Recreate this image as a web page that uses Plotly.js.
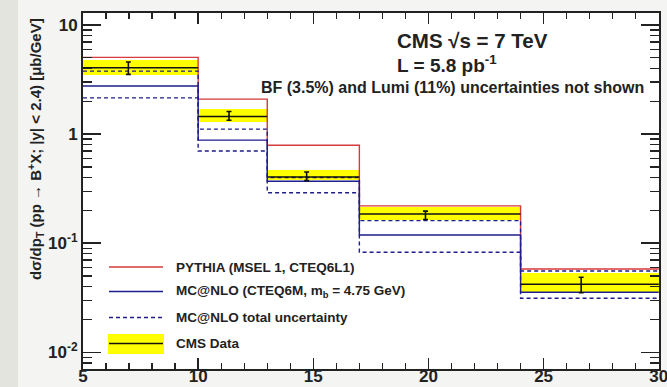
<!DOCTYPE html>
<html>
<head>
<meta charset="utf-8">
<script src="https://cdn.plot.ly/plotly-3.0.1.min.js"></script>
<style>html,body{margin:0;padding:0;background:#f4f4f2;}#chart{width:667px;height:387px;}</style>
</head>
<body>
<div id="chart"></div>
<script>
// ---- data ----
const binEdges   = [5, 10, 13, 17, 24, 30];
const pythia     = [5.05, 2.09, 0.79, 0.22, 0.058];
const mcnlo      = [2.76, 0.88, 0.37, 0.119, 0.0355];
const mcnloUp    = [3.78, 1.11, 0.40, 0.161, 0.0557];
const mcnloDown  = [2.15, 0.70, 0.29, 0.0826, 0.0313];
const cmsData    = [4.06, 1.45, 0.405, 0.185, 0.042];
const cmsBandLo  = [3.50, 1.30, 0.38, 0.164, 0.0352];
const cmsBandHi  = [4.82, 1.69, 0.47, 0.214, 0.053];
const pointX     = [6.97, 11.34, 14.71, 19.87, 26.63];
const pointY     = [4.02, 1.47, 0.41, 0.181, 0.042];
const pointHi    = [4.58, 1.61, 0.45, 0.197, 0.0487];
const pointLo    = [3.53, 1.34, 0.375, 0.165, 0.0352];
const xTicks     = [5, 10, 15, 20, 25, 30];
const yTickVals  = [0.01, 0.1, 1, 10];
const yTickText  = ['10<sup>-2</sup>', '10<sup>-1</sup>', '1', '10'];
const legendLabels = ['PYTHIA (MSEL 1, CTEQ6L1)', 'MC@NLO (CTEQ6M, m<sub>b</sub> = 4.75 GeV)', 'MC@NLO total uncertainty', 'CMS Data'];

// ---- helpers ----
function stepTrace(vals, color, dash) {
  const x = binEdges.slice();
  const y = vals.concat([vals[vals.length - 1]]);
  return {type: 'scatter', mode: 'lines', x: x, y: y, line: {shape: 'hv', color: color, width: 1.4, dash: dash || 'solid'}, hoverinfo: 'skip', showlegend: false};
}
const centers = [], widths = [];
for (let i = 0; i < binEdges.length - 1; i++) {
  centers.push((binEdges[i] + binEdges[i + 1]) / 2);
  widths.push(binEdges[i + 1] - binEdges[i]);
}
const segX = [], segY = [];
for (let i = 0; i < cmsData.length; i++) {
  segX.push(binEdges[i], binEdges[i + 1], null);
  segY.push(cmsData[i], cmsData[i], null);
}

const RED = '#d63a3a', BLUE = '#1e1e8c';
const traces = [
  {type: 'bar', x: centers, width: widths, base: cmsBandLo,
   y: cmsBandHi.map((v, i) => v - cmsBandLo[i]),
   marker: {color: '#ffff00', line: {width: 0}}, hoverinfo: 'skip', showlegend: false},
  stepTrace(pythia, RED),
  stepTrace(mcnlo, BLUE),
  stepTrace(mcnloUp, BLUE, '4px,3px'),
  stepTrace(mcnloDown, BLUE, '4px,3px'),
  {type: 'scatter', mode: 'lines', x: segX, y: segY, line: {color: '#111', width: 1.6}, connectgaps: false, hoverinfo: 'skip', showlegend: false},
  {type: 'scatter', mode: 'markers', x: pointX, y: pointY,
   marker: {size: 1, color: '#111'},
   error_y: {type: 'data', symmetric: false,
     array: pointHi.map((v, i) => v - pointY[i]),
     arrayminus: pointY.map((v, i) => v - pointLo[i]),
     color: '#111', thickness: 1.6, width: 2.5},
   hoverinfo: 'skip', showlegend: false}
];

// ---- layout ----
const W = 667, H = 387, L = 83, R = 8, T = 13, B = 18;
const pw = W - L - R, ph = H - T - B;
const px = v => (v - L) / pw;         // pixel x -> paper
const py = v => (H - B - v) / ph;     // pixel y -> paper

const font = {family: 'Liberation Sans, Arial, sans-serif', color: '#222'};
const legendY = [267, 291.5, 317.5, 343.5];
const shapes = [
  {type: 'rect', xref: 'paper', yref: 'paper', x0: px(0), x1: px(18), y0: py(387), y1: py(0), fillcolor: '#e4e4de', line: {width: 0}, layer: 'below'},
  {type: 'rect', xref: 'paper', yref: 'paper', x0: px(108), x1: px(164), y0: py(354), y1: py(334), fillcolor: '#ffff00', line: {width: 0}},
  {type: 'line', xref: 'paper', yref: 'paper', x0: px(109), x1: px(163), y0: py(legendY[0]), y1: py(legendY[0]), line: {color: RED, width: 1.4}},
  {type: 'line', xref: 'paper', yref: 'paper', x0: px(109), x1: px(163), y0: py(legendY[1]), y1: py(legendY[1]), line: {color: BLUE, width: 1.4}},
  {type: 'line', xref: 'paper', yref: 'paper', x0: px(109), x1: px(163), y0: py(legendY[2]), y1: py(legendY[2]), line: {color: BLUE, width: 1.4, dash: '4px,3px'}},
  {type: 'line', xref: 'paper', yref: 'paper', x0: px(109), x1: px(163), y0: py(legendY[3]), y1: py(legendY[3]), line: {color: '#111', width: 1.6}}
];
const annotations = legendLabels.map((t, i) => ({
  xref: 'paper', yref: 'paper', x: px(174), y: py(legendY[i]), xanchor: 'left', yanchor: 'middle',
  text: '<b>' + t + '</b>', showarrow: false, font: Object.assign({}, font, {size: 13.5})
}));
annotations.push(
  {xref: 'paper', yref: 'paper', x: px(395), y: py(41), xanchor: 'left', yanchor: 'middle', showarrow: false,
   text: '<b>CMS √s = 7 TeV</b>', font: Object.assign({}, font, {size: 20.5})},
  {xref: 'paper', yref: 'paper', x: px(395), y: py(64), xanchor: 'left', yanchor: 'middle', showarrow: false,
   text: '<b>L = 5.8 pb<sup>-1</sup></b>', font: Object.assign({}, font, {size: 19})},
  {xref: 'paper', yref: 'paper', x: px(646), y: py(87.5), xanchor: 'right', yanchor: 'middle', showarrow: false,
   text: '<b>BF (3.5%) and Lumi (11%) uncertainties not shown</b>', font: Object.assign({}, font, {size: 16})},
  {xref: 'paper', yref: 'paper', x: px(35), y: py(149), xanchor: 'center', yanchor: 'middle', showarrow: false, textangle: -90,
   text: '<b>dσ/dp<sub>T</sub> (pp → B<sup>+</sup>X; |y| &lt; 2.4) [μb/GeV]</b>', font: Object.assign({}, font, {size: 15})}
);

const minorY = [];
for (let e = -3; e <= 1; e++) for (let k = 2; k <= 9; k++) minorY.push(k * Math.pow(10, e));

const layout = {
  width: W, height: H,
  margin: {l: L, r: R, t: T, b: B, pad: 0},
  paper_bgcolor: '#f4f4f2', plot_bgcolor: '#ffffff',
  showlegend: false, barmode: 'overlay', bargap: 0,
  font: font,
  xaxis: {range: [5, 30.01], tickmode: 'array', tickvals: xTicks, ticks: 'inside', ticklen: 11, tickwidth: 1.5, tickcolor: '#222',
    showline: true, linecolor: '#222', linewidth: 2, mirror: 'allticks', showgrid: false, zeroline: false,
    ticklabelstandoff: -9, ticklabeloverflow: 'allow',
    tickfont: Object.assign({}, font, {size: 17, weight: 'bold'}),
    minor: {dtick: 1, ticks: 'inside', ticklen: 6, tickwidth: 1.3, tickcolor: '#222', showgrid: false}},
  yaxis: {type: 'log', range: [-2.153, 1.11], tickmode: 'array', tickvals: yTickVals, ticktext: yTickText,
    ticks: 'inside', ticklen: 18, tickwidth: 1.5, tickcolor: '#222',
    showline: true, linecolor: '#222', linewidth: 2, mirror: 'allticks', showgrid: false, zeroline: false,
    tickfont: Object.assign({}, font, {size: 17, weight: 'bold'}),
    minor: {tickmode: 'array', tickvals: minorY, ticks: 'inside', ticklen: 9, tickwidth: 1.3, tickcolor: '#222', showgrid: false}},
  shapes: shapes,
  annotations: annotations
};

Plotly.newPlot('chart', traces, layout, {displayModeBar: false, staticPlot: true});
</script>
</body>
</html>
